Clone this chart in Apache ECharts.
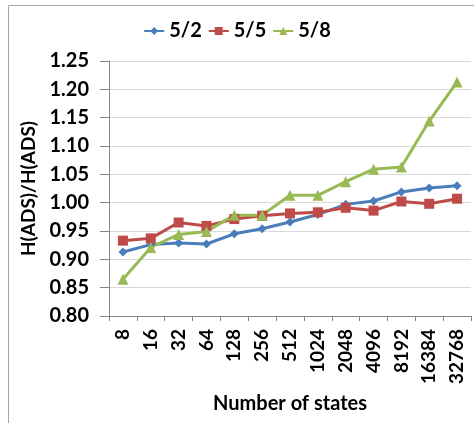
<!DOCTYPE html>
<html><head><meta charset="utf-8">
<script src="https://cdn.jsdelivr.net/npm/echarts@6/dist/echarts.min.js"></script>
<style>html,body{margin:0;padding:0;background:#fff}#c{width:474px;height:423px}</style>
</head><body><div id="c"></div>
<script>
const categories = ['8','16','32','64','128','256','512','1024','2048','4096','8192','16384','32768'];
const s52 = [0.913,0.926,0.929,0.927,0.945,0.954,0.966,0.979,0.997,1.003,1.019,1.026,1.030];
const s55 = [0.933,0.937,0.965,0.959,0.971,0.977,0.981,0.983,0.991,0.986,1.002,0.998,1.007];
const s58 = [0.865,0.921,0.944,0.949,0.978,0.978,1.013,1.013,1.037,1.059,1.063,1.144,1.213];
const seriesNames = ['5/2','5/5','5/8'];
const yTicks = {min:0.80, max:1.25, step:0.05};

const font = 'Lato';
const chart = echarts.init(document.getElementById('c'));
const mk = (name, data, color, symbol, size) => ({
  name, type:'line', data, symbol, symbolSize:size,
  lineStyle:{color, width:3}, itemStyle:{color}, animation:false
});
chart.setOption({
  animation:false,
  textStyle:{fontFamily:font, fontWeight:'bold', color:'#000'},
  graphic:[{type:'rect', shape:{x:8.5,y:5.5,width:600,height:600}, style:{fill:'none', stroke:'#a6a6a6', lineWidth:1}, silent:true}],
  legend:{top:16, left:'center', itemWidth:20, itemHeight:10, itemGap:6,
    textStyle:{fontFamily:font, fontWeight:'bold', fontSize:20, color:'#000'},
    data:seriesNames},
  grid:{left:109, right:3, top:61, bottom:107, containLabel:false},
  xAxis:{type:'category', data:categories, boundaryGap:true,
    name:'Number of states', nameLocation:'middle', nameGap:78,
    nameTextStyle:{fontFamily:font, fontWeight:'bold', fontSize:20, color:'#000'},
    axisLine:{lineStyle:{color:'#868686'}},
    axisTick:{show:true, length:5, lineStyle:{color:'#868686'}},
    axisLabel:{rotate:90, margin:13, fontFamily:font, fontWeight:'bold', fontSize:19, color:'#000'}},
  yAxis:{type:'value', min:yTicks.min, max:yTicks.max, interval:yTicks.step,
    name:'H(ADS)/H(ADS)', nameLocation:'middle', nameGap:64,
    nameTextStyle:{fontFamily:font, fontWeight:'bold', fontSize:19, color:'#000'},
    axisLine:{show:true, lineStyle:{color:'#868686'}},
    axisTick:{show:true, length:9, lineStyle:{color:'#868686'}},
    splitLine:{lineStyle:{color:'#d9d9d9'}},
    axisLabel:{margin:20, fontFamily:font, fontWeight:'bold', fontSize:20, color:'#000', formatter:v=>v.toFixed(2)}},
  series:[
    mk(seriesNames[0], s52, '#4a7ebb', 'diamond', 9),
    mk(seriesNames[1], s55, '#be4b48', 'rect', 10),
    mk(seriesNames[2], s58, '#98b954', 'triangle', 11)
  ]
});
</script></body></html>
